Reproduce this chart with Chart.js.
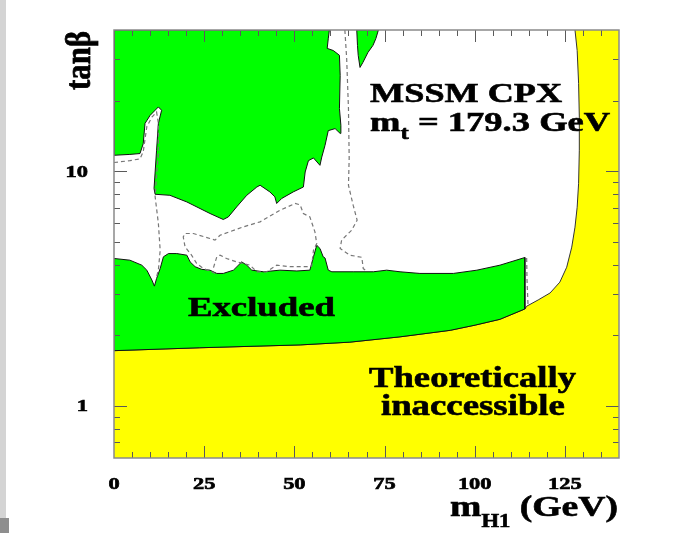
<!DOCTYPE html>
<html>
<head>
<meta charset="utf-8">
<script src="https://cdn.jsdelivr.net/npm/chart.js@4.4.1/dist/chart.umd.min.js"></script>
<style>
  body { margin: 0; background: #fff; }
  #wrap { position: relative; width: 692px; height: 533px; }
  .edge { position: absolute; left: 0; }
</style>
</head>
<body>
<div id="wrap">
  <div class="edge" style="top:0;width:6px;height:533px;background:#d4d4d4"></div>
  <div class="edge" style="top:518px;width:9px;height:15px;background:#8e8e8e"></div>
  <canvas id="limitChart" width="692" height="533" style="position:absolute;left:0;top:0"></canvas>
</div>
<script>
// tick labels
const massTicks = [0, 25, 50, 75, 100, 125];
const tanbTicks = [1, 10];

// theoretically inaccessible boundary (m_H1 in GeV, tan beta)
const theoryMass = [0, 23.8, 51.6, 65.4, 79.3, 93.2, 100.1, 107.0, 113.9, 114.4, 117.6, 120.9, 123.6, 125.5, 126.9, 127.8, 128.4, 128.8, 129.0, 129.0, 128.8, 128.4, 127.8];
const theoryTanb = [1.72, 1.77, 1.82, 1.87, 1.97, 2.10, 2.21, 2.34, 2.59, 2.66, 2.83, 3.03, 3.37, 3.90, 4.75, 5.78, 7.03, 8.89, 12.3, 17.0, 23.7, 32.7, 40];

// excluded region, low tan beta part (upper edge)
const lowMass = [0, 4.4, 7.7, 9.1, 10.5, 11.2, 11.8, 12.8, 13.7, 15.1, 17.4, 20.2, 21.1, 22.5, 24.3, 26.6, 28.5, 30.3, 33.1, 35.4, 36.8, 38.2, 41.4, 46.0, 50.7, 54.3, 55.3, 56.2, 57.1, 58.0, 58.5, 59.4, 60.4, 66.3, 71.9, 75.6, 79.3, 84.8, 94.1, 100.6, 107.0, 113.9, 113.9];
const lowTanb = [4.25, 4.18, 3.98, 3.79, 3.44, 3.24, 3.49, 3.85, 4.32, 4.46, 4.46, 4.39, 4.11, 3.92, 3.82, 3.79, 3.67, 3.67, 3.79, 4.11, 3.98, 3.79, 3.73, 3.79, 3.76, 3.79, 4.32, 4.84, 4.69, 4.32, 4.27, 3.79, 3.73, 3.73, 3.73, 3.79, 3.73, 3.67, 3.67, 3.79, 3.98, 4.29, 2.59];

// excluded region, high tan beta blob
const blobMass = [0, 0, 4.4, 7.2, 8.1, 8.6, 10.0, 12.3, 13.2, 12.3, 11.8, 11.1, 11.4, 15.5, 20.2, 26.6, 30.3, 31.7, 34.0, 36.8, 39.6, 40.5, 43.2, 44.6, 45.1, 46.5, 49.7, 52.5, 53.0, 53.9, 55.3, 57.1, 57.6, 58.5, 59.4, 61.3, 62.7, 62.9, 62.5, 62.7, 62.5, 60.8, 59.1, 59.4, 59.7];
const blobTanb = [40, 11.7, 11.8, 11.9, 13.1, 16.0, 17.3, 18.8, 18.2, 16.0, 12.3, 8.44, 7.98, 7.90, 7.40, 6.61, 6.23, 6.39, 7.05, 7.90, 8.57, 8.72, 8.17, 7.78, 7.29, 7.66, 8.17, 8.57, 9.93, 11.1, 11.4, 10.6, 11.5, 12.9, 14.9, 15.2, 14.5, 15.7, 18.5, 25.6, 31.2, 32.7, 33.4, 36.7, 40];

// small excluded sliver at the top
const sliverMass = [67.3, 67.5, 67.7, 68.2, 69.0, 70.4, 71.8, 72.6, 73.3];
const sliverTanb = [40, 34.4, 31.2, 27.7, 29.1, 32.1, 34.4, 36.8, 40];

// expected limit (dashed)
const exp1Mass = [0, 4.4, 7.2, 8.1, 9.1, 10.5, 11.8, 12.3, 12.3, 11.8, 11.4, 12.3, 12.8, 12.3, 11.8];
const exp1Tanb = [10.9, 11.1, 11.3, 12.1, 15.5, 17.0, 17.9, 16.0, 11.9, 9.6, 7.8, 6.0, 4.6, 3.79, 3.55];
const exp2Mass = [28.0, 27.1, 24.8, 22.9, 21.5, 19.7, 19.2, 19.7, 22.0, 26.6, 28.0, 29.4, 35.8, 40.5, 46.0, 50.2, 51.6, 52.5, 54.3, 55.7, 56.2, 55.3, 54.8, 53.4, 48.8, 45.1, 42.3, 39.6, 37.7, 34.0, 31.2, 29.4, 28.5, 27.5];
const exp2Tanb = [3.67, 3.73, 3.85, 4.05, 4.39, 4.76, 5.25, 5.43, 5.43, 5.17, 5.09, 5.34, 5.79, 6.09, 6.82, 7.29, 7.2, 6.61, 6.39, 5.52, 4.92, 4.61, 3.94, 3.92, 3.92, 3.98, 3.73, 3.73, 3.98, 4.11, 4.25, 4.39, 4.32, 3.85];
const exp3Mass = [64.0, 64.5, 65.0, 65.2, 65.0, 66.3, 67.4, 65.9, 63.1, 62.7, 65.4, 68.7, 69.1, 70.1];
const exp3Tanb = [40, 30.3, 18.5, 11.4, 8.72, 7.17, 6.19, 5.61, 5.09, 4.69, 4.39, 4.30, 3.85, 3.75];
const exp4Mass = [114.4, 114.5, 114.8];
const exp4Tanb = [4.27, 3.44, 2.64];

const X_MIN = 0, X_MAX = 140, Y_MIN = 0.6, Y_MAX = 40;

function toPoints(xs, ys) {
    return xs.map((v, i) => ({ x: v, y: ys[i] }));
}

function closed(points) {
    return points.concat([points[0]]);
}

const theoryPts = toPoints(theoryMass, theoryTanb);
const yellowPts = theoryPts.concat([{ x: X_MAX, y: Y_MAX }, { x: X_MAX, y: Y_MIN }, { x: X_MIN, y: Y_MIN }]);
// low region follows the theory boundary back to m = 0
const edge = lowMass[lowMass.length - 1];
const lowPts = closed(toPoints(lowMass, lowTanb).concat(theoryPts.filter(p => p.x < edge).reverse()));

function region(points, color, order) {
    return { data: points, fill: 'shape', backgroundColor: color, borderColor: '#111', borderWidth: 1, order: order };
}

function dashed(points) {
    return { data: points, fill: false, borderColor: '#777', borderWidth: 1.2, borderDash: [4, 3], order: 1 };
}

const FONT = '"Liberation Serif", "Times New Roman", serif';

// draw text pieces [text, size, dy] stretched to a given width
function richText(ctx, parts, left, baseline, width) {
    let natural = 0;
    parts.forEach(p => {
        ctx.font = `bold ${p[1]}px ${FONT}`;
        natural += ctx.measureText(p[0]).width;
    });
    const sx = width ? width / natural : 1.4;
    ctx.save();
    ctx.translate(left, baseline);
    ctx.scale(sx, 1);
    ctx.lineWidth = 0.6;
    ctx.strokeStyle = ctx.fillStyle;
    let cx = 0;
    parts.forEach(p => {
        ctx.font = `bold ${p[1]}px ${FONT}`;
        ctx.fillText(p[0], cx, p[2] || 0);
        ctx.strokeText(p[0], cx, p[2] || 0);
        cx += ctx.measureText(p[0]).width;
    });
    ctx.restore();
    return natural * sx;
}

const frameAndText = {
    id: 'frameAndText',
    afterDraw(chart) {
        const { ctx, chartArea: a, scales: { x, y } } = chart;
        ctx.save();

        // inward ticks on all four sides
        ctx.strokeStyle = '#5a5a5a';
        ctx.lineWidth = 1;
        ctx.beginPath();
        for (let v = X_MIN + 5; v < X_MAX; v += 5) {
            const px = Math.round(x.getPixelForValue(v)) + 0.5;
            const len = v % 25 === 0 ? 12 : 6;
            ctx.moveTo(px, a.bottom); ctx.lineTo(px, a.bottom - len);
            ctx.moveTo(px, a.top); ctx.lineTo(px, a.top + len);
        }
        [0.1, 1, 10].forEach(dec => {
            for (let k = 1; k <= 9; k++) {
                const v = k * dec;
                if (v <= Y_MIN + 1e-9 || v >= Y_MAX - 1e-9) continue;
                const py = Math.round(y.getPixelForValue(v)) + 0.5;
                const len = k === 1 ? 13 : 6;
                ctx.moveTo(a.left, py); ctx.lineTo(a.left + len, py);
                ctx.moveTo(a.right, py); ctx.lineTo(a.right - len, py);
            }
        });
        ctx.stroke();

        // frame
        ctx.strokeStyle = '#8a8a8a';
        ctx.lineWidth = 1.5;
        ctx.strokeRect(a.left, a.top, a.right - a.left, a.bottom - a.top);

        ctx.fillStyle = '#000';
        ctx.textBaseline = 'alphabetic';

        // tick labels
        massTicks.forEach(v => {
            ctx.font = `bold 16px ${FONT}`;
            const w = ctx.measureText(String(v)).width * 1.4;
            richText(ctx, [[String(v), 16]], x.getPixelForValue(v) - w / 2, a.bottom + 31, w);
        });
        tanbTicks.forEach(v => {
            ctx.font = `bold 16px ${FONT}`;
            const w = ctx.measureText(String(v)).width * 1.4;
            richText(ctx, [[String(v), 16]], a.left - 26 - w, y.getPixelForValue(v) + 5.5, w);
        });

        // axis titles
        richText(ctx, [['m', 30], ['H1', 18, 11], [' (GeV)', 30]], a.right - 169, a.bottom + 58, 168);
        ctx.save();
        ctx.translate(a.left - 24, a.top + 60);
        ctx.rotate(-Math.PI / 2);
        ctx.scale(1, 1.3);
        richText(ctx, [['tanβ', 28]], 0, 0, 59);
        ctx.restore();

        // annotations inside the frame
        richText(ctx, [['MSSM CPX', 28]], x.getPixelForValue(71.0), y.getPixelForValue(19.7), 192);
        richText(ctx, [['m', 28], ['t', 19, 8], [' = 179.3 GeV', 28]], x.getPixelForValue(71.0), y.getPixelForValue(14.9), 240);
        richText(ctx, [['Excluded', 28]], x.getPixelForValue(20.5), y.getPixelForValue(2.415), 147);
        richText(ctx, [['Theoretically', 29]], x.getPixelForValue(70.7), y.getPixelForValue(1.205), 207);
        richText(ctx, [['inaccessible', 29]], x.getPixelForValue(74.0), y.getPixelForValue(0.916), 184);

        ctx.restore();
    }
};

new Chart(document.getElementById('limitChart').getContext('2d'), {
    type: 'line',
    data: {
        datasets: [
            Object.assign(region(yellowPts, '#ffff00', 6), { borderWidth: 0 }),
            { data: theoryPts, fill: false, borderColor: '#333', borderWidth: 1, order: 5 },
            region(lowPts, '#00ff00', 4),
            region(closed(toPoints(blobMass, blobTanb)), '#00ff00', 4),
            region(closed(toPoints(sliverMass, sliverTanb)), '#00ff00', 4),
            dashed(toPoints(exp1Mass, exp1Tanb)),
            dashed(toPoints(exp2Mass, exp2Tanb)),
            dashed(toPoints(exp3Mass, exp3Tanb)),
            dashed(toPoints(exp4Mass, exp4Tanb))
        ]
    },
    options: {
        responsive: false,
        animation: false,
        layout: { padding: { left: 114, right: 73, top: 30, bottom: 75 } },
        elements: { point: { radius: 0, hoverRadius: 0 }, line: { tension: 0 } },
        scales: {
            x: { type: 'linear', min: X_MIN, max: X_MAX, display: false },
            y: { type: 'logarithmic', min: Y_MIN, max: Y_MAX, display: false }
        },
        plugins: { legend: { display: false }, tooltip: { enabled: false } },
        events: []
    },
    plugins: [frameAndText]
});
</script>
</body>
</html>
